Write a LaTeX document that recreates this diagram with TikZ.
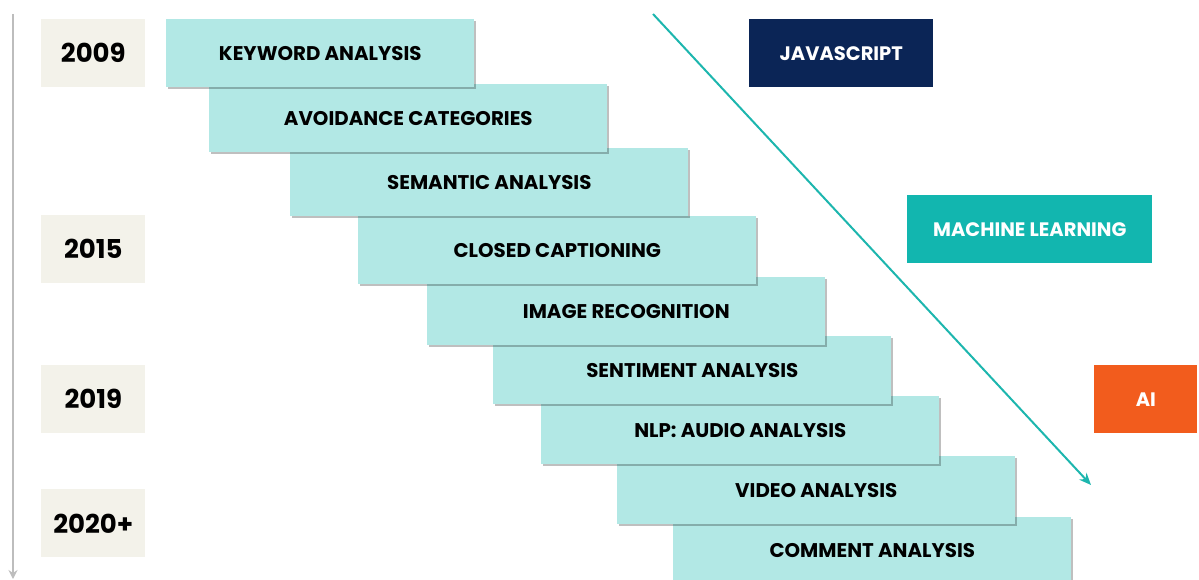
\documentclass[tikz,border=0pt]{standalone}
\usepackage{fontspec}
\setmainfont{Poppins}
\usetikzlibrary{arrows.meta, shadows}

\definecolor{steplight}{HTML}{B2E8E5}
\definecolor{yearbg}{HTML}{F3F2EA}
\definecolor{jsnavy}{HTML}{0B2556}
\definecolor{mlteal}{HTML}{12B6AF}
\definecolor{aiorange}{HTML}{F25C1D}
\definecolor{arrowteal}{HTML}{1DB6AE}
\definecolor{linegray}{HTML}{BDBDBD}

\begin{document}
\begin{tikzpicture}[
                x = 1pt, y = -1pt, % pixel grid, y pointing down
                > = {Stealth[length=12pt, width=10pt]}, % arrow head style
                semithick % line style
            ]

            \useasboundingbox (0,0) rectangle (1199,580);

            \tikzstyle{every node}=[anchor = north west, inner sep = 0pt,
            minimum height = 68pt, align = center, font = \bfseries]
            \tikzstyle{stepbox}=[fill = steplight, minimum width = 398pt,
            font = \bfseries\fontsize{19.8}{22}\selectfont,
            drop shadow = {shadow xshift = 1.5pt, shadow yshift = -1.5pt,
            opacity = 0.25, fill = black}]
            \tikzstyle{yearbox}=[fill = yearbg, minimum width = 104pt,
            font = \bfseries\fontsize{26}{30}\selectfont]
            \tikzstyle{techbox}=[text = white,
            font = \bfseries\fontsize{19.5}{22}\selectfont]

            % timeline on the left
            \coordinate (tstart) at (13,14); \coordinate (tend) at (13,579);
            \draw[->, linegray, line width = 2.5pt,
            > = {Stealth[length=9pt, width=9pt]}] (tstart) -- (tend);

            % years
            \node (y2009) [yearbox] at (41,19) {2009};
            \node (y2015) [yearbox] at (41,215) {2015};
            \node (y2019) [yearbox] at (41,365) {2019};
            \node (y2020) [yearbox] at (41,489) {2020+};

            % steps, drawn from the last one so the earlier ones lie on top
            \node (comment) [stepbox, minimum height = 66pt] at (673,517)
            {COMMENT ANALYSIS};
            \node (video) [stepbox] at (617,456) {VIDEO ANALYSIS};
            \node (nlp) [stepbox] at (541,396) {NLP: AUDIO ANALYSIS};
            \node (sentiment) [stepbox] at (493,336) {SENTIMENT ANALYSIS};
            \node (image) [stepbox] at (427,277) {IMAGE RECOGNITION};
            \node (closed) [stepbox] at (358,216) {CLOSED CAPTIONING};
            \node (semantic) [stepbox] at (290,148) {SEMANTIC ANALYSIS};
            \node (avoid) [stepbox] at (209,84) {AVOIDANCE CATEGORIES};
            \node (keyword) [stepbox, minimum width = 308pt] at (166,19)
            {KEYWORD ANALYSIS};

            % technologies
            \node (js) [techbox, fill = jsnavy, minimum width = 184pt]
            at (749,19) {JAVASCRIPT};
            \node (ml) [techbox, fill = mlteal, minimum width = 245pt]
            at (907,195) {MACHINE LEARNING};
            \node (ai) [techbox, fill = aiorange, minimum width = 103pt]
            at (1094,365) {AI};

            % diagonal arrow
            \coordinate (dstart) at (653,14); \coordinate (dend) at (1091,485);
            \draw[->, arrowteal, line width = 2pt] (dstart) -- (dend);

        \end{tikzpicture}
\end{document}
